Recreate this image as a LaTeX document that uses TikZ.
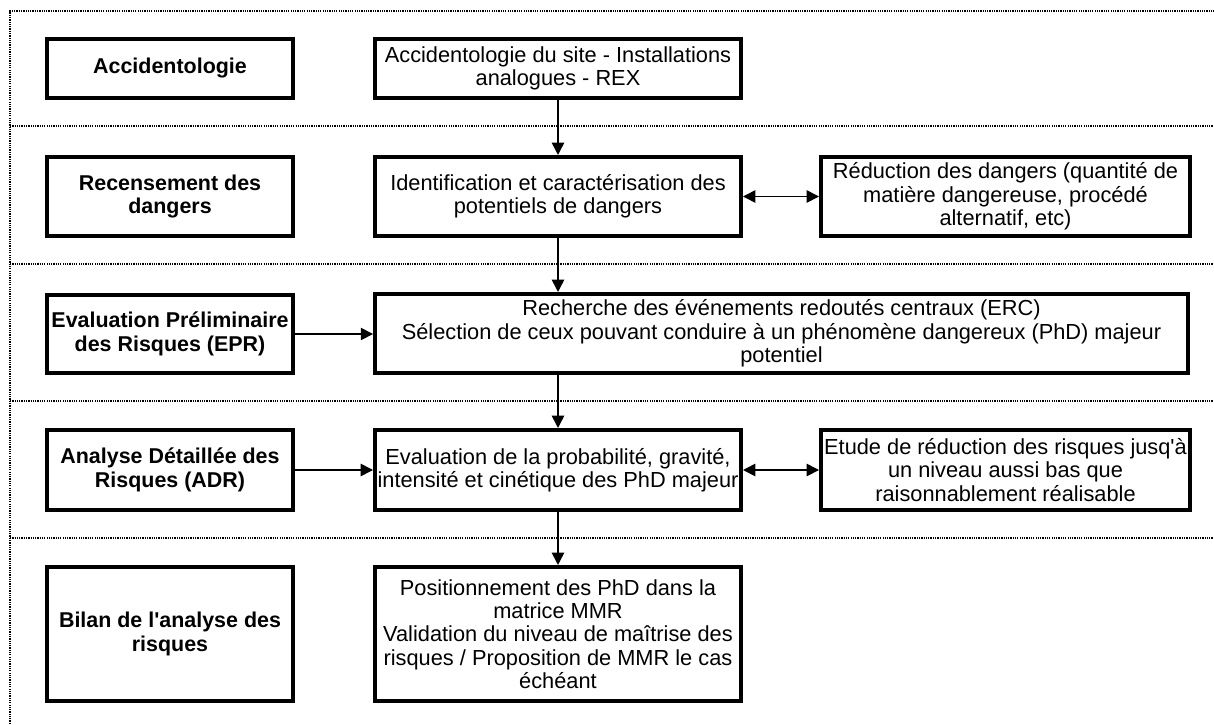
\documentclass[tikz,border=0pt]{standalone}
\usepackage{fontspec}
\setmainfont{Liberation Sans}
\usetikzlibrary{arrows.meta}

\tikzset{
  phase/.style={draw,line width=2.3pt,align=center,inner sep=0pt,
    minimum width=4.92cm,font=\fontsize{12.2}{13.3}\selectfont\bfseries},
  task/.style={draw,line width=2.3pt,align=center,inner sep=0pt,
    font=\fontsize{12.4}{13.3}\selectfont},
  sep/.style={line width=1.2pt,dash pattern=on 0.7pt off 0.6pt}
}

\begin{document}
\begin{tikzpicture}[x=0.02cm,y=-0.02cm]

      \useasboundingbox (0,0) rectangle (1214,724);

      % separateurs
      \draw[sep] (10,724) -- (10,11) -- (1214,11);
      \foreach \y in {126,264,401,538}
        \draw[sep] (10,\y) -- (1214,\y);

      \begin{scope}[every node/.style={phase}]
        \node[minimum height=1.18cm] (l1) at (170,68.5) {Accidentologie};
        \node[minimum height=1.58cm] (l2) at (170,196.5) {Recensement des\\dangers};
        \node[minimum height=1.56cm] (l3) at (170,334) {Evaluation Préliminaire\\des Risques (EPR)};
        \node[minimum height=1.60cm] (l4) at (170,470) {Analyse Détaillée des\\Risques (ADR)};
        \node[minimum height=2.68cm] (l5) at (170,634) {Bilan de l\textquotesingle analyse des\\risques};
      \end{scope}

      \begin{scope}[every node/.style={task}]
        \node[minimum width=7.32cm,minimum height=1.18cm] (m1) at (558,68.5)
          {Accidentologie du site - Installations\\analogues - REX};
        \node[minimum width=7.32cm,minimum height=1.58cm] (m2) at (558,196.5)
          {Identification et caractérisation des\\potentiels de dangers};
        \node[minimum width=16.26cm,minimum height=1.58cm] (m3) at (781.5,333.5)
          {Recherche des événements redoutés centraux (ERC)\\Sélection de ceux pouvant conduire à un phénomène dangereux (PhD) majeur\\potentiel};
        \node[minimum width=7.32cm,minimum height=1.60cm] (m4) at (558,470)
          {Evaluation de la probabilité, gravité,\\intensité et cinétique des PhD majeur};
        \node[minimum width=7.32cm,minimum height=2.68cm] (m5) at (558,634)
          {Positionnement des PhD dans la\\matrice MMR\\Validation du niveau de maîtrise des\\risques / Proposition de MMR le cas\\échéant};
        \node[minimum width=7.38cm,minimum height=1.58cm] (r2) at (1005.5,196.5)
          {Réduction des dangers (quantité de\\matière dangereuse, procédé\\alternatif, etc)};
        \node[minimum width=7.38cm,minimum height=1.60cm] (r4) at (1005.5,470)
          {Etude de réduction des risques jusq\textquotesingle à\\un niveau aussi bas que\\raisonnablement réalisable};
      \end{scope}

      \begin{scope}[every edge/.style={draw,line width=0.9pt},
          >={Triangle[length=7pt,width=7pt]}]
        \path (m1) edge[->] (m2);
        \path (m2.south) edge[->] (m2.south |- m3.north);
        \path (m2.south |- m3.south) edge[->] (m4.north);
        \path (m4) edge[->] (m5);
        \path (l3) edge[->] (l3 -| m3.west);
        \path (l4) edge[->] (m4);
        \path (m2) edge[<->] (r2);
        \path (m4) edge[<->] (r4);
      \end{scope}

    \end{tikzpicture}
\end{document}
